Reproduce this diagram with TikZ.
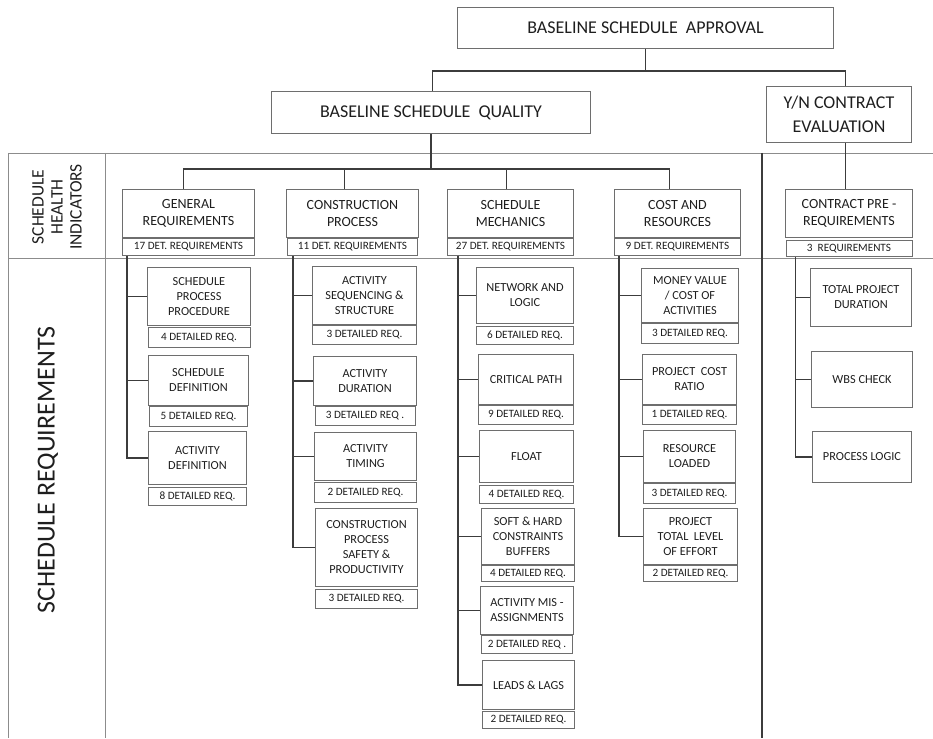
\documentclass[tikz,border=0pt]{standalone}
\usepackage{fontspec}
\setmainfont{Carlito}
\usetikzlibrary{positioning}
\definecolor{boxgray}{HTML}{6E6E6E}
\definecolor{linegray}{HTML}{3C3C3C}
\definecolor{gridgray}{HTML}{8C8C8C}
\definecolor{textgray}{HTML}{1E1E1E}

\begin{document}
\begin{tikzpicture}[x=1pt, y=-1pt,
    headnode/.style={rectangle, draw=boxgray, line width=1pt, text=textgray, align=center, anchor=north west, inner sep=2pt, font=\fontsize{18}{24}\selectfont},
    groupnode/.style={headnode, minimum height=48pt, font=\fontsize{14}{17}\selectfont},
    reqnode/.style={headnode, font=\fontsize{12.3}{15}\selectfont},
    countnode/.style={rectangle, draw=boxgray, line width=1pt, text=textgray, inner sep=0pt, minimum height=18pt, font=\fontsize{11.2}{13}\selectfont},
    labelnode/.style={text=textgray, align=center, rotate=90},
    link/.style={draw=linegray, line width=1.5pt},
    gridline/.style={draw=gridgray, line width=0.8pt},
    node distance=0pt]
    \useasboundingbox (0,0) rectangle (933,738);

    % table
    \draw[gridline] (8,153) -- (933,153);
    \draw[gridline] (8,258) -- (933,258);
    \draw[gridline] (8,153) -- (8,738);
    \draw[gridline] (105,153) -- (105,738);
    \draw[link] (762,153) -- (762,738);
    \node[labelnode, font=\fontsize{17.5}{19}\selectfont] (shi) at (57,207) {SCHEDULE\\HEALTH\\INDICATORS};
    \node[labelnode, font=\fontsize{26}{30}\selectfont] (sreq) at (48,470) {SCHEDULE REQUIREMENTS};

    % top levels
    \node[headnode, minimum width=376pt, minimum height=41pt] (appr) at (457,7) {BASELINE SCHEDULE\ \ APPROVAL};
    \node[headnode, minimum width=319pt, minimum height=42pt] (bsq) at (271,91) {BASELINE SCHEDULE\ \ QUALITY};
    \node[headnode, minimum width=145pt, minimum height=56pt] (yn) at (766,86) {Y/N CONTRACT\\EVALUATION};
    \draw[link] (appr.south) -- ++(0,22) coordinate (afork);
    \draw[link] (afork) -| ([xshift=1.5pt]bsq.north);
    \draw[link] (afork) -| ([xshift=6.5pt]yn.north);

    % health indicators
    \node[groupnode, minimum width=132pt] (gr) at (122,189) {GENERAL\\REQUIREMENTS};
    \node[countnode, minimum width=132pt, minimum height=17pt, below=of gr] (grn) {17 DET. REQUIREMENTS};
    \node[groupnode, minimum width=132pt] (cp) at (286,189) {CONSTRUCTION\\PROCESS};
    \node[countnode, minimum width=130pt, minimum height=17pt, below=of cp] (cpn) {11 DET. REQUIREMENTS};
    \node[groupnode, minimum width=126pt] (sm) at (447,189) {SCHEDULE\\MECHANICS};
    \node[countnode, minimum width=126pt, minimum height=17pt, below=of sm] (smn) {27 DET. REQUIREMENTS};
    \node[groupnode, minimum width=126pt] (cr) at (614,189) {COST AND\\RESOURCES};
    \node[countnode, minimum width=126pt, minimum height=17pt, below=of cr] (crn) {9 DET. REQUIREMENTS};
    \node[groupnode, minimum width=127pt] (cpr) at (785,189) {CONTRACT PRE -\\REQUIREMENTS};
    \node[countnode, minimum width=126pt, minimum height=16pt, below=2pt of cpr] (cprn) {3\ \ REQUIREMENTS};
    \draw[link] (bsq.south) -- ++(0,35) coordinate (qfork);
    \draw[link] (qfork) -| ([xshift=-5pt]gr.north);
    \draw[link] (qfork) -| ([xshift=-8pt]cp.north);
    \draw[link] (qfork) -| ([xshift=-4pt]sm.north);
    \draw[link] (qfork) -| ([xshift=-8pt]cr.north);
    \draw[link] ([xshift=6.5pt]yn.south) -- ([xshift=6.5pt]yn.south |- cpr.north);

    % general requirements
    \node[reqnode, minimum width=103pt, minimum height=58pt] (spp) at (147,267) {SCHEDULE\\PROCESS\\PROCEDURE};
    \node[countnode, minimum width=102pt, minimum height=20pt, below=1pt of spp] (sppn) {4 DETAILED REQ.};
    \node[reqnode, minimum width=100pt, minimum height=50pt] (sdf) at (148,355) {SCHEDULE\\DEFINITION};
    \node[countnode, minimum width=98pt, minimum height=20pt, below=of sdf] (sdfn) {5 DETAILED REQ.};
    \node[reqnode, minimum width=98pt, minimum height=53pt] (adf) at (148,431) {ACTIVITY\\DEFINITION};
    \node[countnode, minimum width=98pt, below=2pt of adf] (adfn) {8 DETAILED REQ.};
    \draw[link] ([xshift=5pt]grn.south west) |- (spp.west);
    \draw[link] ([xshift=5pt]grn.south west) |- (sdf.west);
    \draw[link] ([xshift=5pt]grn.south west) |- (adf.west);

    % construction process
    \node[reqnode, minimum width=104pt, minimum height=58pt] (ass) at (312,266) {ACTIVITY\\SEQUENCING \&\\STRUCTURE};
    \node[countnode, minimum width=104pt, minimum height=19pt, below=of ass] (assn) {3 DETAILED REQ.};
    \node[reqnode, minimum width=103pt, minimum height=49pt] (adu) at (313,356) {ACTIVITY\\DURATION};
    \node[countnode, minimum width=100pt, minimum height=19pt, below=of adu] (adun) {3 DETAILED REQ .};
    \node[reqnode, minimum width=102pt, minimum height=48pt] (ati) at (314,432) {ACTIVITY\\TIMING};
    \node[countnode, minimum width=102pt, minimum height=20pt, below=1pt of ati] (atin) {2 DETAILED REQ.};
    \node[reqnode, minimum width=102pt, minimum height=78pt] (cps) at (315,508) {CONSTRUCTION\\PROCESS\\SAFETY \&\\PRODUCTIVITY};
    \node[countnode, minimum width=102pt, minimum height=19pt, below=2pt of cps] (cpsn) {3 DETAILED REQ.};
    \draw[link] ([xshift=6pt]cpn.south west) |- (ass.west);
    \draw[link] ([xshift=6pt]cpn.south west) |- (adu.west);
    \draw[link] ([xshift=6pt]cpn.south west) |- (ati.west);
    \draw[link] ([xshift=6pt]cpn.south west) |- (cps.west);

    % schedule mechanics
    \node[reqnode, minimum width=97pt, minimum height=56pt] (nl) at (476,267) {NETWORK AND\\LOGIC};
    \node[countnode, minimum width=97pt, minimum height=18pt, below=2pt of nl] (nln) {6 DETAILED REQ.};
    \node[reqnode, minimum width=95pt, minimum height=50pt] (cpa) at (478,354) {CRITICAL PATH};
    \node[countnode, minimum width=95pt, minimum height=19pt, below=of cpa] (cpan) {9 DETAILED REQ.};
    \node[reqnode, minimum width=94pt, minimum height=52pt] (fl) at (479,430) {FLOAT};
    \node[countnode, minimum width=94pt, minimum height=18pt, below=2pt of fl] (fln) {4 DETAILED REQ.};
    \node[reqnode, minimum width=93pt, minimum height=56pt] (shc) at (481,508) {SOFT \& HARD\\CONSTRAINTS\\BUFFERS};
    \node[countnode, minimum width=93pt, minimum height=16pt, below=of shc] (shcn) {4 DETAILED REQ.};
    \node[reqnode, minimum width=93pt, minimum height=48pt] (ama) at (480,586) {ACTIVITY MIS -\\ASSIGNMENTS};
    \node[countnode, minimum width=91pt, minimum height=18pt, below=of ama] (aman) {2 DETAILED REQ .};
    \node[reqnode, minimum width=92pt, minimum height=49pt] (ll) at (482,660) {LEADS \& LAGS};
    \node[countnode, minimum width=92pt, minimum height=17pt, below=1pt of ll] (lln) {2 DETAILED REQ.};
    \draw[link] ([xshift=11pt]smn.south west) |- (nl.west);
    \draw[link] ([xshift=11pt]smn.south west) |- (cpa.west);
    \draw[link] ([xshift=11pt]smn.south west) |- (fl.west);
    \draw[link] ([xshift=11pt]smn.south west) |- (shc.west);
    \draw[link] ([xshift=11pt]smn.south west) |- (ama.west);
    \draw[link] ([xshift=11pt]smn.south west) |- (ll.west);

    % cost and resources
    \node[reqnode, minimum width=97pt, minimum height=54pt] (mv) at (641,268) {MONEY VALUE\\/ COST OF\\ACTIVITIES};
    \node[countnode, minimum width=97pt, minimum height=20pt, below=of mv] (mvn) {3 DETAILED REQ.};
    \node[reqnode, minimum width=94pt, minimum height=50pt] (pcr) at (642,354) {PROJECT\ \ COST\\RATIO};
    \node[countnode, minimum width=94pt, minimum height=19pt, below=of pcr] (pcrn) {1 DETAILED REQ.};
    \node[reqnode, minimum width=92pt, minimum height=52pt] (rl) at (643,430) {RESOURCE\\LOADED};
    \node[countnode, minimum width=92pt, minimum height=20pt, below=of rl] (rln) {3 DETAILED REQ.};
    \node[reqnode, minimum width=94pt, minimum height=56pt] (pte) at (643,508) {PROJECT\\TOTAL\ \ LEVEL\\OF EFFORT};
    \node[countnode, minimum width=94pt, minimum height=16pt, below=of pte] (pten) {2 DETAILED REQ.};
    \draw[link] ([xshift=5pt]crn.south west) |- (mv.west);
    \draw[link] ([xshift=5pt]crn.south west) |- (pcr.west);
    \draw[link] ([xshift=5pt]crn.south west) |- (rl.west);
    \draw[link] ([xshift=5pt]crn.south west) |- (pte.west);

    % contract pre-requirements
    \node[reqnode, minimum width=101pt, minimum height=58pt] (tpd) at (810,268) {TOTAL PROJECT\\DURATION};
    \node[reqnode, minimum width=101pt, minimum height=56pt] (wbs) at (811,351) {WBS CHECK};
    \node[reqnode, minimum width=99pt, minimum height=51pt] (pl) at (812,431) {PROCESS LOGIC};
    \draw[link] ([xshift=10pt]cprn.south west) |- (tpd.west);
    \draw[link] ([xshift=10pt]cprn.south west) |- (wbs.west);
    \draw[link] ([xshift=10pt]cprn.south west) |- (pl.west);
\end{tikzpicture}
\end{document}
